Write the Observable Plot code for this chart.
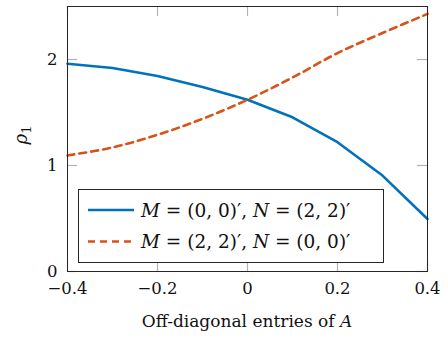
<!DOCTYPE html>
<html><head><meta charset="utf-8">
<script src="https://cdn.jsdelivr.net/npm/d3@7"></script>
<script src="https://cdn.jsdelivr.net/npm/@observablehq/plot@0.6"></script>
<style>body{margin:0;background:#fff} #chart{position:relative;width:448px;height:338px}</style>
</head><body><div id="chart"></div>
<script>
const xValues = [-0.4, -0.3, -0.2, -0.1, 0, 0.1, 0.2, 0.3, 0.4];
const seriesA = [1.96, 1.92, 1.845, 1.74, 1.62, 1.455, 1.22, 0.905, 0.495];
const seriesB = [1.095, 1.17, 1.29, 1.44, 1.62, 1.83, 2.06, 2.25, 2.43];
const seriesNames = [
  [["M", true], [" = (0, 0)′, ", false], ["N", true], [" = (2, 2)′", false]],
  [["M", true], [" = (2, 2)′, ", false], ["N", true], [" = (0, 0)′", false]]
];
const seriesColors = ["#0072BD", "#D95319"];
const xTicks = [-0.4, -0.2, 0, 0.2, 0.4];
const yTicks = [0, 1, 2];

const W = 448, H = 338, mL = 67, mR = 21, mT = 6, mB = 67;
const ph = H - mT - mB, pw = W - mL - mR;
const FONT = "DejaVu Serif";
const fmt = d => d3.format(".2~f")(d);

const dataA = xValues.map((x, i) => ({x, y: seriesA[i]}));
const dataB = xValues.map((x, i) => ({x, y: seriesB[i]}));

const plot = Plot.plot({
  width: W, height: H, marginLeft: mL, marginRight: mR, marginTop: mT, marginBottom: mB,
  style: {fontFamily: FONT, fontSize: "16.5px", color: "#000", background: "#fff"},
  x: {domain: [-0.4, 0.4]},
  y: {domain: [0, 2.5]},
  marks: [
    Plot.tickX(xTicks, {x: d => d, insetTop: ph - 10, stroke: "#b3b3b3", strokeWidth: 1.2}),
    Plot.tickX(xTicks, {x: d => d, insetBottom: ph - 10, stroke: "#b3b3b3", strokeWidth: 1.2}),
    Plot.tickY(yTicks, {y: d => d, insetRight: pw - 10, stroke: "#b3b3b3", strokeWidth: 1.2}),
    Plot.tickY(yTicks, {y: d => d, insetLeft: pw - 10, stroke: "#b3b3b3", strokeWidth: 1.2}),
    Plot.line(dataA, {x: "x", y: "y", stroke: seriesColors[0], strokeWidth: 2.6}),
    Plot.line(dataB, {x: "x", y: "y", stroke: seriesColors[1], strokeWidth: 2.6, strokeDasharray: "7,5", curve: "catmull-rom"}),
    Plot.frame({stroke: "#262626", strokeWidth: 1}),
    Plot.axisX(xTicks, {tickSize: 0, tickPadding: 11, tickFormat: fmt, label: null, fontSize: 16.5, fill: "#111"}),
    Plot.axisY(yTicks, {tickSize: 0, tickPadding: 10, tickFormat: fmt, label: null, fontSize: 16.5, fill: "#111"})
  ]
});
document.getElementById("chart").appendChild(plot);

const svg = d3.select(plot);
// x-axis label
const xl = svg.append("text").attr("x", mL + pw / 2).attr("y", 327).attr("text-anchor", "middle")
  .attr("font-family", FONT).attr("font-size", 17).attr("fill", "#111");
xl.append("tspan").text("Off-diagonal entries of ");
xl.append("tspan").attr("font-style", "italic").text("A");
// y-axis label
const yl = svg.append("text").attr("transform", "translate(27,135) rotate(-90)").attr("text-anchor", "middle")
  .attr("font-family", FONT).attr("font-size", 18).attr("fill", "#111");
yl.append("tspan").attr("font-style", "italic").text("ρ");
yl.append("tspan").attr("font-size", 13).attr("dy", 4).text("1");

// legend
const lg = svg.append("g");
lg.append("rect").attr("x", 78.5).attr("y", 189.5).attr("width", 305).attr("height", 73)
  .attr("fill", "#fff").attr("stroke", "#262626").attr("stroke-width", 1);
[210, 241.5].forEach((cy, i) => {
  lg.append("line").attr("x1", 88).attr("x2", 134).attr("y1", cy).attr("y2", cy)
    .attr("stroke", seriesColors[i]).attr("stroke-width", 2.6)
    .attr("stroke-dasharray", i === 1 ? "7,5" : null);
  const t = lg.append("text").attr("x", 141).attr("y", cy + 6.5).attr("text-anchor", "start")
    .attr("font-family", FONT).attr("font-size", 18.5).attr("fill", "#111");
  seriesNames[i].forEach(([s, it]) => {
    const ts = t.append("tspan").text(s);
    if (it) ts.attr("font-style", "italic");
  });
});
</script>
</body></html>
